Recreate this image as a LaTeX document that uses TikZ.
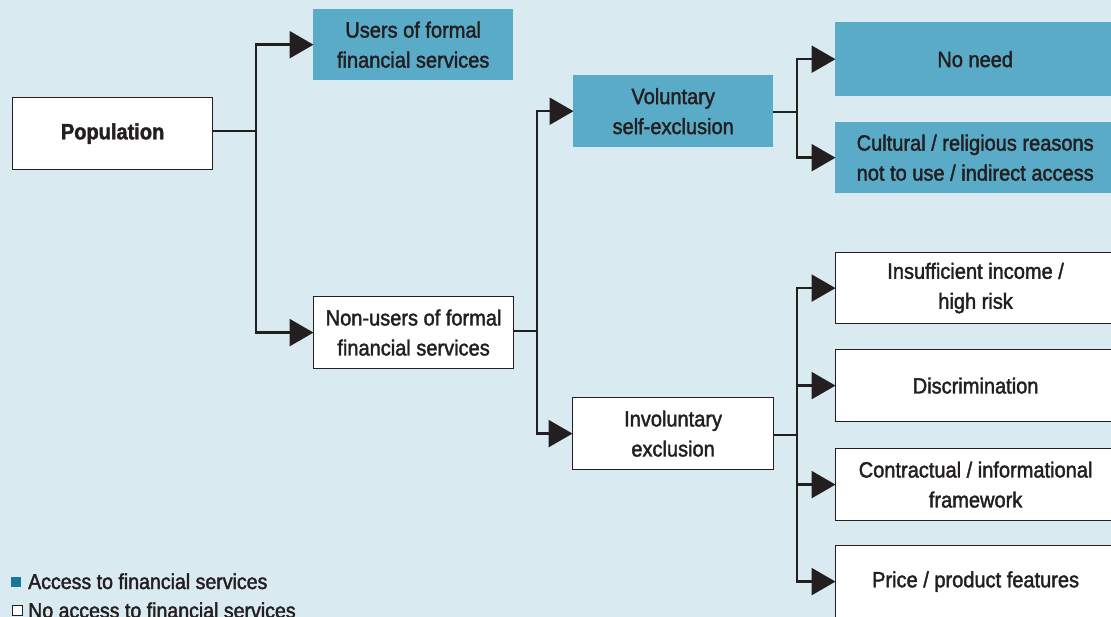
\documentclass[tikz,border=0pt]{standalone}
\usepackage{fontspec}
\setmainfont{Liberation Sans}[FakeStretch=0.91,FakeBold=1.8]
\usetikzlibrary{arrows.meta}
\definecolor{bg}{HTML}{DAEAF1}
\definecolor{boxblue}{HTML}{5AABC8}
\definecolor{legblue}{HTML}{17789A}
\definecolor{ink}{HTML}{231F20}
\begin{document}
\begin{tikzpicture}[x=1pt,y=-1pt,
  base/.style={minimum height=72pt, text=ink, align=center, inner sep=0pt,
    font=\fontsize{22}{30}\selectfont, anchor=north west},
  blue/.style={base, fill=boxblue},
  white/.style={base, fill=white, draw=ink, line width=1.2pt},
  conn/.style={draw=ink, line width=2.6pt},
  arr/.style={conn, -{Triangle[length=24pt,width=27pt]}, shorten >=-0.5pt},
  legtext/.style={text=ink, font=\fontsize{21.5}{22}\selectfont, anchor=base west, inner sep=0pt}]
\fill[bg] (0,0) rectangle (1111,617);
\useasboundingbox (0,0) rectangle (1111,617);

\node[white, minimum width=200pt] (pop) at (12,97) {\bfseries Population};
\node[blue, minimum width=200pt, minimum height=71pt] (users) at (313,9) {Users of formal\\financial services};
\node[white, minimum width=200pt] (non) at (313,296) {Non-users of formal\\financial services};
\node[blue, minimum width=200pt] (vol) at (573,75) {Voluntary\\self-exclusion};
\node[white, minimum width=201pt] (inv) at (572,397) {Involuntary\\exclusion};
\node[blue, minimum width=280pt, minimum height=74pt] (need) at (835,22) {No need};
\node[blue, minimum width=280pt, minimum height=71pt] (cult) at (835,122) {Cultural / religious reasons\\not to use / indirect access};
\node[white, minimum width=280pt, minimum height=71pt] (ins) at (835,252) {Insufficient income /\\high risk};
\node[white, minimum width=280pt] (disc) at (835,349) {Discrimination};
\node[white, minimum width=280pt] (contr) at (835,448) {Contractual / informational\\framework};
\node[white, minimum width=280pt] (price) at (835,545) {Price / product features};

% Population branches
\coordinate (j1) at (256,131);
\draw[conn] (pop.east |- j1) -- (j1);
\draw[arr] (j1) |- (users.west);
\draw[arr] (j1) |- (non.west);

% Non-users branches
\coordinate (j2) at (537,331);
\draw[conn] (non.east |- j2) -- (j2);
\draw[arr] (j2) |- (vol.west);
\draw[arr] (j2) |- (inv.west);

% Voluntary branches
\coordinate (j3) at (797,112);
\draw[conn] (vol.east |- j3) -- (j3);
\draw[arr] (j3) |- (need.west);
\draw[arr] (j3) |- (cult.west);

% Involuntary branches
\coordinate (j4) at (797,435);
\draw[conn] (inv.east |- j4) -- (j4);
\draw[arr] (j4) |- (ins.west);
\draw[arr] (j4) |- (disc.west);
\draw[arr] (j4) |- (contr.west);
\draw[arr] (j4) |- (price.west);

% Legend
\node[fill=legblue, minimum size=10pt, inner sep=0pt, anchor=north west] (k1) at (11,577) {};
\node[legtext] (l1) at (28,589) {Access to financial services};
\node[fill=white, draw=ink, line width=0.8pt, minimum size=10pt, inner sep=0pt, anchor=north west] (k2) at (12,605) {};
\node[legtext] (l2) at (28,618) {No access to financial services};
\end{tikzpicture}
\end{document}
